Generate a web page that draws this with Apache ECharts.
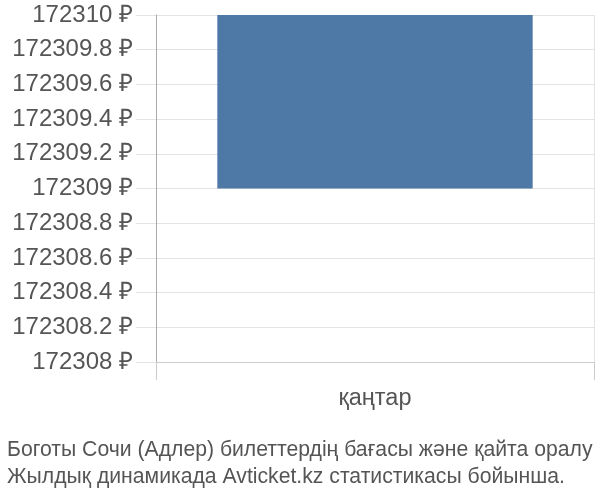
<!DOCTYPE html>
<html>
<head>
<meta charset="utf-8">
<script src="https://cdn.jsdelivr.net/npm/echarts@6/dist/echarts.min.js"></script>
<style>
  html, body { margin: 0; padding: 0; background: #fff; }
  #chart { width: 600px; height: 500px; }
</style>
</head>
<body>
<div id="chart"></div>
<script>
// категории и цены (нижняя и верхняя граница)
var months = ['қаңтар'];
var priceLow = [172309];
var priceHigh = [172310];
var yMin = 172308, yMax = 172310, yStep = 0.2;
var caption = [
    'Боготы Сочи (Адлер) билеттердің бағасы және қайта оралу',
    'Жылдық динамикада Avticket.kz статистикасы бойынша.'
];

var FONT = '"Liberation Sans", Arial, sans-serif';

var rangeSize = priceHigh.map(function (v, i) { return v - priceLow[i]; });

var myChart = echarts.init(document.getElementById('chart'));
myChart.setOption({
    animation: false,
    grid: { left: 156, right: 6, top: 15, bottom: 138 },
    title: {
        text: caption.join('\n'),
        left: 2,
        top: 432,
        textStyle: { fontFamily: FONT, fontSize: 21.2, fontWeight: 'normal', color: '#555', lineHeight: 27 }
    },
    xAxis: {
        type: 'category',
        data: months,
        axisLine: { show: true, lineStyle: { color: '#ccc' } },
        axisTick: { show: true, length: 18, lineStyle: { color: '#ccc' } },
        splitLine: { show: true, lineStyle: { color: '#e3e3e3' } },
        axisLabel: { margin: 25, fontFamily: FONT, fontSize: 23.5, color: '#555' }
    },
    yAxis: {
        type: 'value',
        min: yMin,
        max: yMax,
        interval: yStep,
        axisLine: { show: true, lineStyle: { color: '#aaa' } },
        axisTick: { show: true, length: 20, lineStyle: { color: '#e3e3e3' } },
        splitLine: { lineStyle: { color: '#e3e3e3' } },
        axisLabel: {
            margin: 23,
            fontFamily: FONT,
            fontSize: 24,
            color: '#555',
            formatter: function (v) { return (+v.toFixed(1)) + ' ₽'; }
        }
    },
    series: [
        {
            type: 'bar',
            stack: 'range',
            data: priceLow,
            itemStyle: { color: 'transparent' },
            barWidth: '72%'
        },
        {
            type: 'bar',
            stack: 'range',
            data: rangeSize,
            itemStyle: { color: '#4e79a7' },
            barWidth: '72%'
        }
    ]
});
</script>
</body>
</html>
